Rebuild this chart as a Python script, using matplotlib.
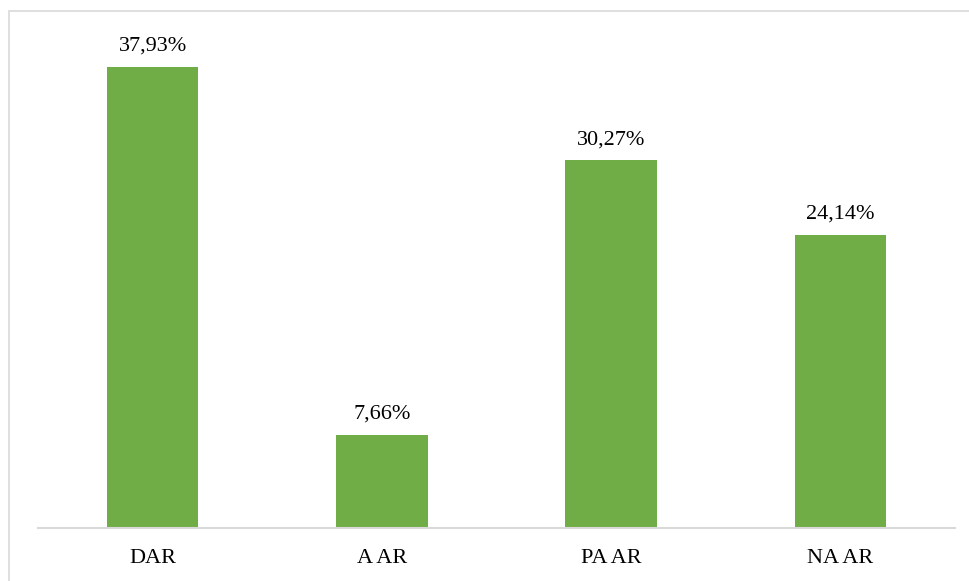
import matplotlib.pyplot as plt
from matplotlib.patches import Rectangle

categories = ["DAR", "A AR", "PA AR", "NA AR"]
values = [37.93, 7.66, 30.27, 24.14]
labels = ["37,93%", "7,66%", "30,27%", "24,14%"]

plt.rcParams['font.family'] = ['Liberation Serif', 'DejaVu Serif']

fig = plt.figure(figsize=(9.7, 5.81), dpi=100)
W, H = 970, 581
ax = fig.add_axes([38 / W, 1 - 528 / H, (955 - 38) / W, (528 - 42) / H])

x = list(range(len(categories)))
ax.bar(x, values, width=0.40, color="#70AD47", zorder=2)
for xi, v, lab in zip(x, values, labels):
    ax.annotate(lab, (xi, v), xytext=(0, 8), textcoords="offset points",
                ha="center", va="bottom", fontsize=16, color="#000000")

ax.set_xlim(-0.5, 3.5)
ax.set_ylim(0, 40)
ax.set_yticks([])
ax.set_xticks(x)
ax.set_xticklabels(categories, fontsize=16)
ax.tick_params(axis="x", length=0, pad=15)
for s in ["top", "right", "left"]:
    ax.spines[s].set_visible(False)
ax.spines["bottom"].set_color("#D9D9D9")
ax.spines["bottom"].set_linewidth(1.5)

# chart border
fig.patches.append(Rectangle((9 / W, -0.01), 1.02, 1 - 11 / H + 0.01,
                             transform=fig.transFigure, fill=False,
                             edgecolor="#D9D9D9", linewidth=1.2))

fig.savefig("out.png", dpi=100)
